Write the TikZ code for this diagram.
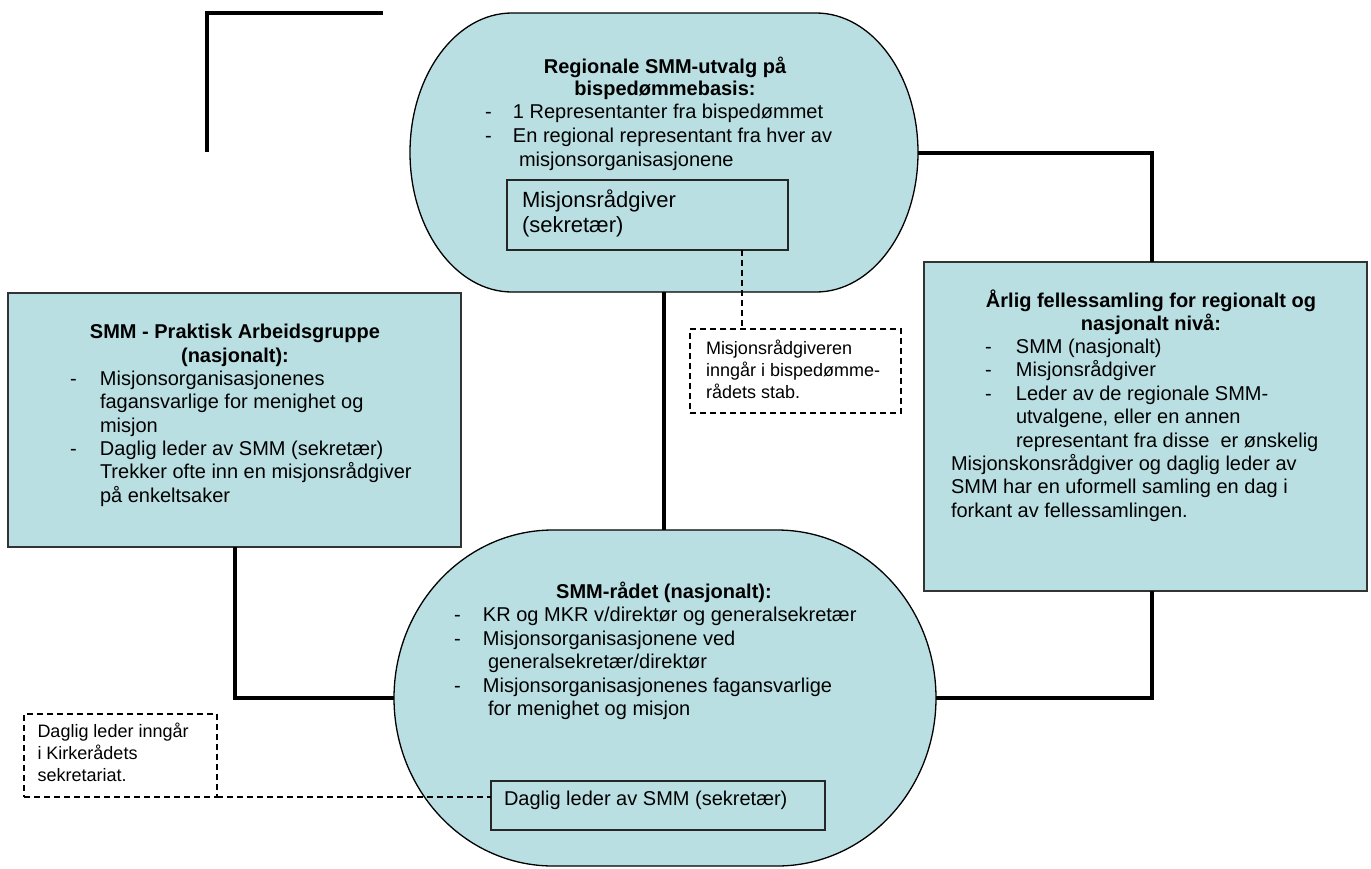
\documentclass[tikz,border=0pt]{standalone}
\usepackage{fontspec}
\setmainfont{Liberation Sans}
\usetikzlibrary{calc}
\definecolor{tealfill}{RGB}{185,223,227}
\newcommand\dashitem[2]{\makebox[#1pt][l]{-}#2}
\begin{document}
\begin{tikzpicture}[x=1pt,y=1pt,
  conn/.style={line width=4pt, black},
  dashconn/.style={line width=1.3pt, black, dash pattern=on 6pt off 4pt},
  pillanchor/.style={rectangle, draw=none, inner sep=0pt, outer sep=0pt},
  pill/.style={fill=tealfill, draw=black, line width=1.3pt},
  panel/.style={rectangle, fill=tealfill, draw=black!80, line width=1.3pt, inner sep=0pt, outer sep=0pt},
  framebox/.style={rectangle, draw=black!85, line width=1.2pt, inner sep=0pt, outer sep=0pt},
  notebox/.style={rectangle, draw=black, line width=1.3pt, dash pattern=on 6pt off 4pt, inner sep=0pt, outer sep=0pt},
  txt/.style={anchor=west, inner sep=0pt, outer sep=0pt, text height=14.5pt, text depth=4.2pt, font=\fontsize{20}{23.4}\selectfont},
  ttl/.style={anchor=center, inner sep=0pt, outer sep=0pt, text height=14.5pt, text depth=4.2pt, font=\fontsize{20}{23.4}\selectfont\bfseries},
  bigtxt/.style={anchor=west, inner sep=0pt, outer sep=0pt, text height=16pt, text depth=4.6pt, font=\fontsize{22}{25}\selectfont},
  smalltxt/.style={anchor=west, inner sep=0pt, outer sep=0pt, text height=13pt, text depth=3.8pt, font=\fontsize{18}{21.7}\selectfont}
]
\fill[white] (0,0) rectangle (1371,-868);
\useasboundingbox (0,0) rectangle (1371,-868);

% anchors and shapes
\node[pillanchor, minimum width=508pt, minimum height=279pt] (regional) at (664,-152.5) {};
\draw[pill] ($(regional.north west)+(102,0)$) -- ($(regional.north east)+(-102,0)$)
  arc[start angle=90, end angle=-90, x radius=102pt, y radius=139.5pt]
  -- ($(regional.south west)+(102,0)$)
  arc[start angle=270, end angle=90, x radius=102pt, y radius=139.5pt] -- cycle;

\node[pillanchor, minimum width=542pt, minimum height=336pt] (smmr) at (665,-698) {};
\draw[pill] ($(smmr.north west)+(159,0)$) -- ($(smmr.north east)+(-159,0)$)
  arc[start angle=90, end angle=-90, x radius=159pt, y radius=168pt]
  -- ($(smmr.south west)+(159,0)$)
  arc[start angle=270, end angle=90, x radius=159pt, y radius=168pt] -- cycle;

\node[panel, minimum width=453pt, minimum height=254pt] (praktisk) at (234.5,-420) {};
\node[panel, minimum width=443pt, minimum height=329pt] (aarlig) at (1145.5,-426.5) {};
\node[framebox, minimum width=281pt, minimum height=70pt] (rinner) at (647.5,-215) {};
\node[framebox, minimum width=334pt, minimum height=49pt] (daglig) at (658,-805.5) {};
\node[notebox, minimum width=211pt, minimum height=84pt] (mnote) at (795.5,-371) {};
\node[notebox, minimum width=193pt, minimum height=83pt] (dnote) at (120.5,-755.5) {};

% connectors
\coordinate (rx) at (1152,0);
\coordinate (mx) at (742,0);
\coordinate (la) at (207,-152);
\coordinate (lb) at (207,-13);
\coordinate (lc) at (383,-13);
\draw[conn] (la) -- (lb) -- (lc);
\draw[conn] (regional.south) -- (regional.south |- smmr.north);
\draw[conn] (regional.east) -| (aarlig.north -| rx);
\draw[conn] (aarlig.south -| rx) |- (smmr.east);
\draw[conn] (praktisk.south) |- (smmr.west);
\draw[dashconn] (rinner.south -| mx) -- (mnote.north -| mx);
\draw[dashconn] (dnote.south east) -- (dnote.south east -| daglig.west);

% top pill text
\node[ttl] (r1) at (665,-68) {Regionale SMM-utvalg på};
\node[ttl] (r2) at (665,-90) {bispedømmebasis:};
\node[txt] (r3) at (485,-113) {\dashitem{28}{1 Representanter fra bispedømmet}};
\node[txt] (r4) at (485,-137) {\dashitem{28}{En regional representant fra hver av}};
\node[txt] (r5) at (519,-161) {misjonsorganisasjonene};
\node[bigtxt] (r6) at (522,-202) {Misjonsrådgiver};
\node[bigtxt] (r7) at (522,-227) {(sekretær)};

% left panel text
\node[ttl] (p1) at (235,-333) {SMM - Praktisk Arbeidsgruppe};
\node[ttl] (p2) at (235,-357) {(nasjonalt):};
\node[txt] (p3) at (70,-380) {\dashitem{30}{Misjonsorganisasjonenes}};
\node[txt] (p4) at (100,-403.5) {fagansvarlige for menighet og};
\node[txt] (p5) at (100,-427) {misjon};
\node[txt] (p6) at (70,-450) {\dashitem{30}{Daglig leder av SMM (sekretær)}};
\node[txt] (p7) at (100,-473.5) {Trekker ofte inn en misjonsrådgiver};
\node[txt] (p8) at (100,-497) {på enkeltsaker};

% right panel text
\node[ttl] (a1) at (1151,-302) {Årlig fellessamling for regionalt og};
\node[ttl] (a2) at (1151,-325) {nasjonalt nivå:};
\node[txt] (a3) at (985,-348) {\dashitem{31}{SMM (nasjonalt)}};
\node[txt] (a4) at (985,-371.5) {\dashitem{31}{Misjonsrådgiver}};
\node[txt] (a5) at (985,-395) {\dashitem{31}{Leder av de regionale SMM-}};
\node[txt] (a6) at (1016,-418.5) {utvalgene, eller en annen};
\node[txt] (a7) at (1016,-442) {representant fra disse\ \ er ønskelig};
\node[txt] (a8) at (951,-465) {Misjonskonsrådgiver og daglig leder av};
\node[txt] (a9) at (951,-488.5) {SMM har en uformell samling en dag i};
\node[txt] (a10) at (951,-512) {forkant av fellessamlingen.};

% bottom pill text
\node[ttl] (s1) at (664,-593) {SMM-rådet (nasjonalt):};
\node[txt] (s2) at (454,-616.5) {\dashitem{29}{KR og MKR v/direktør og generalsekretær}};
\node[txt] (s3) at (454,-640) {\dashitem{29}{Misjonsorganisasjonene ved}};
\node[txt] (s4) at (488,-663.5) {generalsekretær/direktør};
\node[txt] (s5) at (454,-687) {\dashitem{29}{Misjonsorganisasjonenes fagansvarlige}};
\node[txt] (s6) at (488,-710) {for menighet og misjon};
\node[txt] (s7) at (504,-800) {Daglig leder av SMM (sekretær)};

% notes
\node[smalltxt] (m1) at (706,-350) {Misjonsrådgiveren};
\node[smalltxt] (m2) at (706,-372) {inngår i bispedømme-};
\node[smalltxt] (m3) at (706,-393.5) {rådets stab.};
\node[smalltxt] (d1) at (37.5,-733) {Daglig leder inngår};
\node[smalltxt] (d2) at (37.5,-755) {i Kirkerådets};
\node[smalltxt] (d3) at (37.5,-777) {sekretariat.};
\end{tikzpicture}
\end{document}
